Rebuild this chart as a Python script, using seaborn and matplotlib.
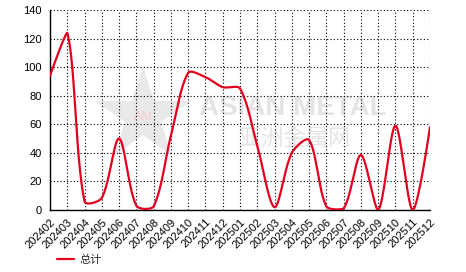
import numpy as np
import pandas as pd
import matplotlib
matplotlib.use("Agg")
import matplotlib.pyplot as plt
import seaborn as sns

months = ["202402", "202403", "202404", "202405", "202406", "202407", "202408",
          "202409", "202410", "202411", "202412", "202501", "202502", "202503",
          "202504", "202505", "202506", "202507", "202508", "202509", "202510",
          "202511", "202512"]
totals = [94, 124, 6, 8.5, 50, 3, 2.5, 52, 96, 93, 86, 85, 45, 2, 40, 49,
          2.5, 1, 38.5, 0, 59, 0, 58]
series_name = "总计"
y_ticks = [0, 20, 40, 60, 80, 100, 120, 140]

sns.set_theme(style="white")
plt.rcParams['font.family'] = ['Liberation Sans', 'Noto Sans CJK SC', 'DejaVu Sans']

# ---- smooth rendering of the series (bezier smoothing in pixel space) ----
px_per_x = 380 / (len(months) - 1)
px_per_y = 200 / 140
pts = np.column_stack([np.arange(len(totals)) * px_per_x,
                       np.array(totals, dtype=float) * px_per_y])
smooth = 0.3
n = len(pts)
pmin, pmax = pts.min(axis=0), pts.max(axis=0)
cp_in = pts.copy()
cp_out = pts.copy()
for i in range(1, n - 1):
    p, prev, nxt = pts[i], pts[i - 1], pts[i + 1]
    v = nxt - prev
    lp = np.linalg.norm(p - prev)
    ln = np.linalg.norm(nxt - p)
    r = ln / (ln + lp)
    cp_in[i] = np.clip(p - smooth * (1 - r) * v, pmin, pmax)
    cp_out[i] = np.clip(p + smooth * r * v, pmin, pmax)
t = np.linspace(0, 1, 60, endpoint=False)[:, None]
segs = []
for i in range(n - 1):
    a, b, c, d = pts[i], cp_out[i], cp_in[i + 1], pts[i + 1]
    segs.append((1 - t) ** 3 * a + 3 * (1 - t) ** 2 * t * b
                + 3 * (1 - t) * t ** 2 * c + t ** 3 * d)
segs.append(pts[-1:])
curve = np.vstack(segs)
df = pd.DataFrame({"x": curve[:, 0] / px_per_x, "y": curve[:, 1] / px_per_y})

fig = plt.figure(figsize=(4.66, 2.72), dpi=100)
ax = fig.add_axes([50 / 466, 1 - 210 / 272, 380 / 466, 200 / 272])

# watermark
ax.plot([0.245], [0.47], transform=ax.transAxes, marker="*", markersize=72,
        color="#e9e9e9", zorder=0, markeredgewidth=0)
ax.text(0.245, 0.465, "AM", transform=ax.transAxes, fontsize=9,
        color="#f6caca", ha="center", va="center", zorder=0)
ax.text(0.64, 0.51, "ASIAN METAL", transform=ax.transAxes, fontsize=20,
        fontweight="bold", color="#e4e4e4", ha="center", va="center", zorder=0,
        family=["Liberation Sans"])
ax.text(0.645, 0.36, "亚洲金属网", transform=ax.transAxes, fontsize=16,
        color="#e4e4e4", ha="center", va="center", zorder=0,
        family=["Noto Sans CJK SC"])

sns.lineplot(data=df, x="x", y="y", ax=ax, color="#e1001e", linewidth=1.6,
             label=series_name, zorder=3, sort=False)

ax.set_xlim(0, n - 1)
ax.set_ylim(0, 140)
ax.set_xticks(range(n))
ax.set_xticklabels(months, rotation=45, ha="right", rotation_mode="anchor",
                   fontsize=8)
ax.set_yticks(y_ticks)
ax.set_yticklabels([str(v) for v in y_ticks], fontsize=8)
ax.set_xlabel("")
ax.set_ylabel("")
ax.grid(True, color="black", linestyle=(0, (1, 2)), linewidth=0.8)
for sp in ["top", "right"]:
    ax.spines[sp].set_visible(False)
for sp in ["left", "bottom"]:
    ax.spines[sp].set_color("black")
    ax.spines[sp].set_linewidth(1.0)
ax.tick_params(axis="both", which="both", direction="out", length=4,
               width=1, color="black", pad=2, labelcolor="black")
ax.tick_params(axis="x", pad=1)

ax.legend(loc="center left", bbox_to_anchor=(57 / 466, 1 - 260 / 272),
          bbox_transform=fig.transFigure, frameon=False, handlelength=1.5,
          handletextpad=0.5, borderpad=0, borderaxespad=0,
          prop={"family": ["Noto Sans CJK SC", "DejaVu Sans"], "size": 8})

fig.savefig("out.png", dpi=100)
